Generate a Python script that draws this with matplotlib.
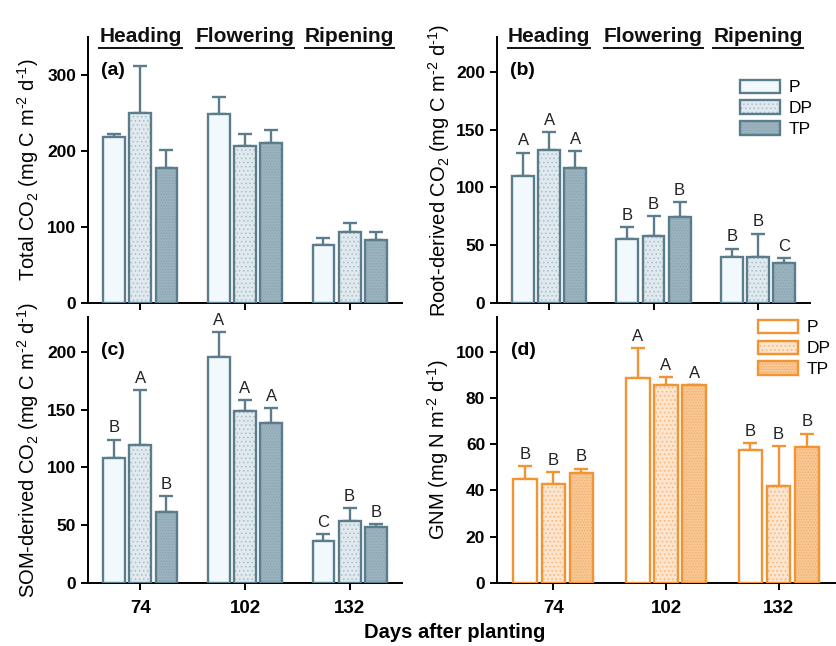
import numpy as np
import matplotlib
matplotlib.use("Agg")
import matplotlib.pyplot as plt
from matplotlib.lines import Line2D

plt.rcParams['font.family'] = ['Liberation Sans', 'DejaVu Sans']
plt.rcParams['mathtext.fontset'] = 'custom'
plt.rcParams['mathtext.rm'] = 'Liberation Sans'
plt.rcParams['mathtext.it'] = 'Liberation Sans:italic'
plt.rcParams['mathtext.bf'] = 'Liberation Sans:bold'
plt.rcParams['hatch.linewidth'] = 0.6

# data
days = ['74', '102', '132']
stages = ['Heading', 'Flowering', 'Ripening']
treatments = ['P', 'DP', 'TP']

total_mean = [[219, 250, 178], [249, 207, 211], [76, 93, 83]]
total_top = [[222, 312, 201], [271, 223, 228], [86, 105, 93]]

root_mean = [[110, 132, 117], [55, 58, 74], [40, 40, 35]]
root_top = [[130, 148, 131], [66, 75, 87], [47, 60, 39]]
root_sig = [['A', 'A', 'A'], ['B', 'B', 'B'], ['B', 'B', 'C']]

som_mean = [[108, 119, 61], [195, 149, 138], [36, 54, 48]]
som_top = [[124, 167, 75], [217, 158, 151], [42, 65, 51]]
som_sig = [['B', 'A', 'B'], ['A', 'A', 'A'], ['C', 'B', 'B']]

gnm_mean = [[45, 42.7, 47.5], [88.5, 85.4, 85.4], [57.7, 42, 58.7]]
gnm_top = [[50.5, 48, 49.5], [101.5, 89, 85.7], [60.6, 59.3, 64.6]]
gnm_sig = [['B', 'B', 'B'], ['A', 'A', 'A'], ['B', 'B', 'B']]

blue_edge = '#5a7c8b'
blue_fill = ['#f2f9fd', '#e0e9ee', '#9ab3be']
blue_hatch = [None, '#a9bec8', '#88a3b0']
orange_edge = '#f39432'
orange_fill = ['#ffffff', '#fde4cc', '#f8c794']
orange_hatch = [None, '#f5b57c', '#f0ad6c']
hatches = [None, '....', '......']

W, H = 837, 646
fig = plt.figure(figsize=(W / 100, H / 100), dpi=100)


def make_ax(left, right, top, bottom):
    return fig.add_axes([left / W, (H - bottom) / H, (right - left) / W, (bottom - top) / H])


def draw_panel(ax, mean, top, sig, edge, fills, hcols, ylim, yticks):
    mean = np.array(mean)
    top = np.array(top)
    x = np.arange(len(days))
    w = 0.21
    handles = []
    for i in range(3):
        xi = x + (i - 1) * 0.25
        vals = mean[:, i]
        if hatches[i]:
            f = ax.bar(xi, vals, w, color=fills[i], edgecolor=hcols[i], hatch=hatches[i], lw=0, zorder=2)
        else:
            f = ax.bar(xi, vals, w, color=fills[i], lw=0, zorder=2)
        o = ax.bar(xi, vals, w, fill=False, edgecolor=edge, lw=1.7, zorder=3)
        ax.errorbar(xi, vals, yerr=[np.zeros(3), top[:, i] - vals], fmt='none',
                    ecolor=edge, elinewidth=1.7, capsize=5, capthick=1.7, zorder=1)
        handles.append((f.patches[0], o.patches[0]))
        if sig is not None:
            for j in range(3):
                ax.annotate(sig[j][i], (xi[j], top[j, i]), xytext=(0, 3), textcoords='offset points',
                            ha='center', va='bottom', fontsize=12, color='#222222')
    ax.set_xlim(-0.5, 2.5)
    ax.set_ylim(*ylim)
    ax.set_yticks(yticks)
    ax.set_xticks(x)
    for s in ['top', 'right']:
        ax.spines[s].set_visible(False)
    for s in ['left', 'bottom']:
        ax.spines[s].set_linewidth(1.4)
    ax.tick_params(width=1.4, length=5, labelsize=12.5)
    for lab in ax.get_yticklabels():
        lab.set_fontweight('bold')
    return handles


ax_a = make_ax(88, 402, 37, 303)
ax_b = make_ax(497, 810, 37, 303)
ax_c = make_ax(88, 402, 317, 583)
ax_d = make_ax(497, 835, 317, 583)

draw_panel(ax_a, total_mean, total_top, None, blue_edge, blue_fill, blue_hatch, (0, 350), [0, 100, 200, 300])
hb = draw_panel(ax_b, root_mean, root_top, root_sig, blue_edge, blue_fill, blue_hatch, (0, 230), [0, 50, 100, 150, 200])
draw_panel(ax_c, som_mean, som_top, som_sig, blue_edge, blue_fill, blue_hatch, (0, 230), [0, 50, 100, 150, 200])
hd = draw_panel(ax_d, gnm_mean, gnm_top, gnm_sig, orange_edge, orange_fill, orange_hatch, (0, 115), [0, 20, 40, 60, 80, 100])

for ax in (ax_a, ax_b):
    ax.set_xticklabels([])
for ax in (ax_c, ax_d):
    ax.set_xticklabels(days, fontsize=13.5, fontweight='bold')
    ax.tick_params(axis='x', pad=7)

unit_c = r' (mg C m$^{\text{-2}}$ d$^{\text{-1}}$)'
ax_a.set_ylabel('Total CO$_2$' + unit_c, fontsize=14.5)
ax_b.set_ylabel('Root-derived CO$_2$' + unit_c, fontsize=14.5)
ax_c.set_ylabel('SOM-derived CO$_2$' + unit_c, fontsize=14.5)
ax_d.set_ylabel(r'GNM (mg N m$^{\text{-2}}$ d$^{\text{-1}}$)', fontsize=14.5)
for ax in (ax_a, ax_c):
    ax.yaxis.set_label_coords(-0.15, 0.5)
for ax in (ax_b,):
    ax.yaxis.set_label_coords(-0.145, 0.5)
ax_d.yaxis.set_label_coords(-0.135, 0.5)

for ax, lab in zip((ax_a, ax_b, ax_c, ax_d), ['(a)', '(b)', '(c)', '(d)']):
    ax.text(0.04, 0.875, lab, transform=ax.transAxes, fontsize=14, fontweight='bold', va='center')

ax_b.legend(hb, treatments, loc='upper left', bbox_to_anchor=(0.776, 0.84), frameon=False,
            fontsize=12.5, handlelength=2.3, handleheight=0.8, labelspacing=0.3,
            handletextpad=0.5, borderpad=0, borderaxespad=0)
ax_d.legend(hd, treatments, loc='upper left', bbox_to_anchor=(0.772, 0.99), frameon=False,
            fontsize=12.5, handlelength=2.3, handleheight=0.8, labelspacing=0.3,
            handletextpad=0.5, borderpad=0, borderaxespad=0)

# stage headers above the top panels
headers = []
for ax in (ax_a, ax_b):
    for j, st in enumerate(stages):
        t = ax.text(j, 1.0, st, transform=ax.get_xaxis_transform(), ha='center', va='center',
                    fontsize=15, fontweight='bold', color='#111111')
        headers.append(t)

fig.text(455 / W, 1 - 633 / H, 'Days after planting', ha='center', va='center',
         fontsize=14.5, fontweight='bold')

fig.canvas.draw()
r = fig.canvas.get_renderer()
for t in headers:
    bb = t.get_window_extent(r)
    y = bb.y0 - 1
    fig.add_artist(Line2D([bb.x0 / W, bb.x1 / W], [y / H, y / H], color='#111111', lw=1.4))

fig.savefig('out.png', dpi=100)
